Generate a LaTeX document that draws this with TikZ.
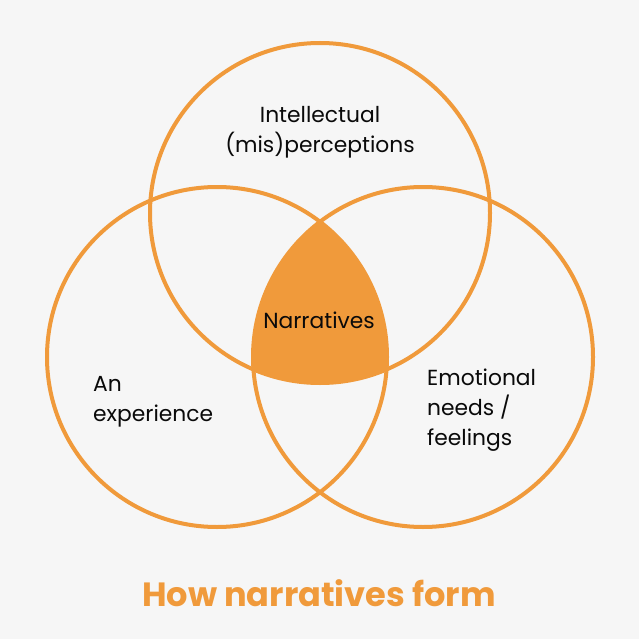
\documentclass[tikz,border=0pt]{standalone}
\usepackage{fontspec}
\setmainfont{Poppins}
\definecolor{bg}{HTML}{F6F6F6}
\definecolor{org}{HTML}{F09A3B}
\definecolor{txt}{HTML}{0A0A0A}
\begin{document}
\begin{tikzpicture}[x=1pt,y=-1pt,
  ring/.style={draw=org,line width=4pt},
  lbl/.style={text=txt,inner sep=0pt,font=\fontsize{21.8}{30}\selectfont},
  ttl/.style={text=org,inner sep=0pt,font=\fontsize{33.6}{38}\selectfont\bfseries}]
\fill[bg] (0,0) rectangle (639,639);
\useasboundingbox (0,0) rectangle (639,639);
\coordinate (ct) at (320,213);
\coordinate (cl) at (217,357);
\coordinate (cr) at (423,357);
\begin{scope}
  \clip (cl) circle (170pt);
  \clip (cr) circle (170pt);
  \fill[org] (ct) circle (170pt);
\end{scope}
\draw[ring] (ct) circle (170pt);
\draw[ring] (cl) circle (170pt);
\draw[ring] (cr) circle (170pt);
\node[lbl,align=center] (intel) at (320,132) {Intellectual\\(mis)perceptions};
\node[lbl] (narr) at (319,320) {Narratives};
\node[lbl,align=left,anchor=west] (exp) at (93,402) {An\\experience};
\node[lbl,align=left,anchor=west] (emo) at (427,410) {Emotional\\needs /\\feelings};
\node[ttl] (title) at (319,593) {How narratives form};
\end{tikzpicture}
\end{document}
